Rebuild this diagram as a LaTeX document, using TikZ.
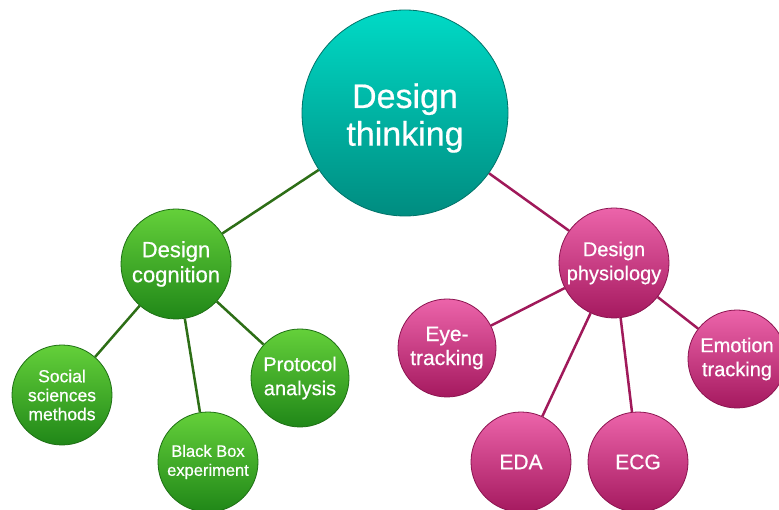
\documentclass[tikz,border=0pt]{standalone}
\usepackage{fontspec}
\setmainfont{Liberation Sans}
\newfontface\medface{Liberation Sans}[FakeBold=0.6]
\usetikzlibrary{backgrounds}
\definecolor{tealtop}{RGB}{0,218,198}
\definecolor{tealbot}{RGB}{0,140,128}
\definecolor{tealrim}{RGB}{0,115,105}
\definecolor{greentop}{RGB}{100,208,58}
\definecolor{greenbot}{RGB}{32,135,24}
\definecolor{greenrim}{RGB}{30,112,20}
\definecolor{pinktop}{RGB}{236,100,170}
\definecolor{pinkbot}{RGB}{165,25,95}
\definecolor{pinkrim}{RGB}{140,20,80}
\definecolor{greenline}{RGB}{45,110,22}
\definecolor{pinkline}{RGB}{160,25,90}
\begin{document}
\begin{tikzpicture}[x=1pt,y=-1pt,
  bubble/.style={circle, inner sep=0pt, align=center, text=white, minimum size=#1, line width=0.8pt},
  tealbub/.style={bubble=#1, draw=tealrim, top color=tealtop, bottom color=tealbot},
  greenbub/.style={bubble=#1, draw=greenrim, top color=greentop, bottom color=greenbot},
  pinkbub/.style={bubble=#1, draw=pinkrim, top color=pinktop, bottom color=pinkbot},
  gline/.style={draw=greenline, line width=2.5pt},
  pline/.style={draw=pinkline, line width=2.5pt},
  fhuge/.style={font=\medface\fontsize{34}{42}\selectfont},
  fbig/.style={font=\medface\fontsize{21}{24}\selectfont},
  fmid/.style={font=\medface\fontsize{20}{24}\selectfont},
  fsmall/.style={font=\medface\fontsize{16.5}{19}\selectfont}]
\useasboundingbox (0,0) rectangle (779,510);
\node[tealbub=206pt, fhuge] (dt) at (405,113) {\raisebox{-5pt}[\height][\depth]{\shortstack{Design\\[3pt]thinking}}};
\node[greenbub=110pt, font=\medface\fontsize{22}{25}\selectfont] (dc) at (176,264) {Design\\cognition};
\node[pinkbub=110pt, fmid] (dp) at (614,263) {Design\\physiology};
\node[greenbub=100pt, font=\medface\fontsize{17.5}{19}\selectfont] (ss) at (62,395) {Social\\sciences\\methods};
\node[greenbub=100pt, fsmall] (bb) at (208,462) {Black Box\\experiment};
\node[greenbub=98pt, fmid] (pa) at (300,378) {Protocol\\analysis};
\node[pinkbub=98pt, fbig] (et) at (447,348) {Eye-\\tracking};
\node[pinkbub=100pt, fbig] (eda) at (521,462) {EDA};
\node[pinkbub=100pt, fbig] (ecg) at (638,462) {ECG};
\node[pinkbub=98pt, fmid] (emo) at (737,359) {Emotion\\tracking};
\begin{scope}[on background layer]
\fill[white] (0,0) rectangle (779,510);
\draw[gline] (dt) -- (dc);
\draw[pline] (dt) -- (dp);
\draw[gline] (dc) -- (ss);
\draw[gline] (dc) -- (bb);
\draw[gline] (dc) -- (pa);
\draw[pline] (dp) -- (et);
\draw[pline] (dp) -- (eda);
\draw[pline] (dp) -- (ecg);
\draw[pline] (dp) -- (emo);
\end{scope}
\end{tikzpicture}
\end{document}
